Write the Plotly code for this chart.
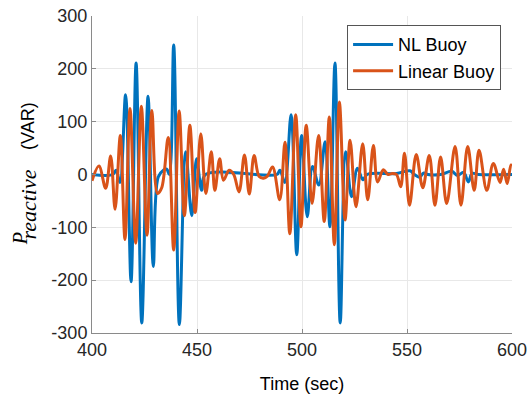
import plotly.graph_objects as go

# NL Buoy (blue) – time (sec), reactive power (VAR)
nl_t = [400, 410, 411.5, 413.3, 416, 418.6, 421, 423.7, 426.7, 429.2, 431.5, 434, 435.6, 436.8,
        438.9, 441.6, 444.6, 447.5, 449.8, 452.2, 454, 488, 489.5, 491.8, 494.8, 497.5, 499.8,
        502.5, 505, 508, 511, 513.3, 515.7, 518.2, 520.8, 523.6, 526.4, 529, 531, 545, 551.4,
        553.5, 555.9, 558, 560, 566, 571.3, 574, 577, 579.2, 581, 584, 600]
nl_p = [0, 0, 8, -15, 151, -203, 211, -281, 148, -174, -5, 8, 10, 0,
        245, -284, 43, -78, 30, -30, 0, 0, 8, -15, 113, -152, 74,
        -80, 15, -20, 62, -99, 211, -281, 43, -42, 12, -10, 0, 2, 7,
        0, -5, 3, 0, 0, 6, -2, 4, -14, 2, 0, 0]

# Linear Buoy (orange)
lin_t = [400, 403.3, 406.5, 408.9, 411, 413.5, 415.7, 418.1, 420.8, 423.5, 426.2, 428.5, 431.2,
         433.2, 436.3, 438.9, 441.5, 444, 446.6, 449.1, 451.8, 454.2, 456.8, 458.5, 460.8, 462.6,
         465.3, 467.5, 470, 472.6, 474.9, 477.2, 479.6, 481.7, 483.5, 486, 489.4, 491.9, 494.2,
         497, 499.5, 502, 504.8, 507.9, 510.6, 513, 515.4, 517.8, 520.5, 522.9, 525.7, 528.9,
         531.3, 534, 536, 538.7, 541, 543, 545, 547, 548.8, 551.2, 554.4, 557.5, 560.6, 563.3,
         566, 568.9, 572.9, 575.7, 578.9, 582, 584.3, 588, 591.1, 594.3, 596, 597.7, 599.5, 600]
lin_p = [-12, 16, -26, 35, -66, 74, -123, 125, -130, 129, -115, 121, -36,
         -25, 70, -143, 120, -78, 93, -72, 77, -36, 43, -30, 30, -11,
         8, 0, -33, 37, -37, 36, -4, -7, -3, 14, -48, 61, -112,
         113, -99, 93, -55, 74, -89, 109, -133, 137, -86, 65, -61, 58,
         -48, 55, -14, 9, 0, 2, 0, -23, 40, -58, 38, -25, 36, -58,
         33, -55, 53, -58, 53, -30, 46, -30, 21, -15, 10, -17, 18, 16]

x_ticks = [400, 450, 500, 550, 600]
y_ticks = [-300, -200, -100, 0, 100, 200, 300]

fig = go.Figure()
fig.add_trace(go.Scatter(x=nl_t, y=nl_p, mode="lines", name="NL Buoy",
                         line=dict(color="#0072BD", width=3, shape="spline", smoothing=1.0)))
fig.add_trace(go.Scatter(x=lin_t, y=lin_p, mode="lines", name="Linear Buoy",
                         line=dict(color="#D95319", width=3, shape="spline", smoothing=1.0)))

axis_common = dict(showgrid=True, gridcolor="#e8e8e8", gridwidth=1, zeroline=False,
                   showline=True, linecolor="#8a8a8a", linewidth=1, mirror=False,
                   ticks="inside", ticklen=4, tickcolor="#8a8a8a", automargin=False,
                   tickfont=dict(family="Liberation Sans, Arial", size=18, color="#262626"))

# y-axis title assembled from pieces (P, subscript, unit)
title_parts = [
    ("<i>P</i>", -0.171, 0.296, dict(family="Liberation Serif", size=20, color="#000000")),
    ("<i>reactive</i>", -0.150, 0.405, dict(family="Liberation Serif", size=22, color="#000000")),
    ("(VAR)", -0.151, 0.652, dict(family="Liberation Sans, Arial", size=18, color="#000000")),
]
annotations = [dict(text=t, x=x, y=y, xref="paper", yref="paper", showarrow=False,
                    textangle=-90, xanchor="center", yanchor="middle", font=f)
               for t, x, y, f in title_parts]

fig.update_layout(
    width=529, height=401,
    margin=dict(l=92, r=17, t=16, b=68),
    paper_bgcolor="white", plot_bgcolor="white",
    showlegend=True,
    annotations=annotations,
    legend=dict(x=0.974, y=0.971, xanchor="right", yanchor="top",
                bgcolor="white", bordercolor="#555555", borderwidth=1,
                font=dict(family="Liberation Sans, Arial", size=18, color="#000000"),
                tracegroupgap=0, itemwidth=40),
    xaxis=dict(range=[400, 600], tickvals=x_ticks, ticktext=[str(v) for v in x_ticks],
               title=dict(text="Time (sec)", font=dict(family="Liberation Sans, Arial", size=18, color="#000000"),
                          standoff=18),
               **axis_common),
    yaxis=dict(range=[-300, 300], tickvals=y_ticks, ticktext=[str(v) for v in y_ticks],
               **axis_common),
)

fig.write_html("out.html")
